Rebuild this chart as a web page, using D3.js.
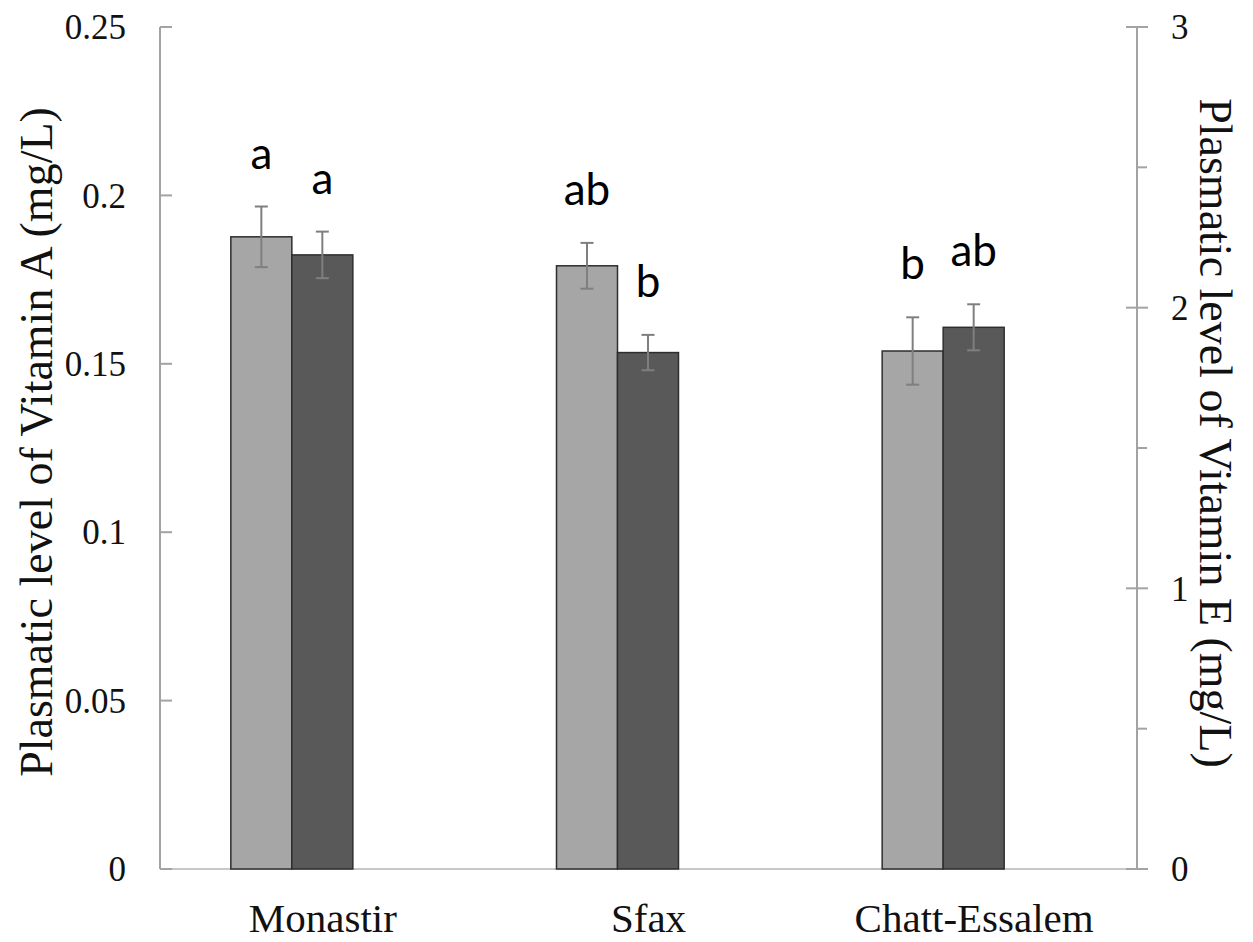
<!DOCTYPE html>
<html>
<head>
<meta charset="utf-8">
<script src="https://cdn.jsdelivr.net/npm/d3@7"></script>
<style>
  html, body { margin: 0; padding: 0; background: #fff; }
  svg { display: block; }
</style>
</head>
<body>
<svg id="chart" width="1253" height="942"></svg>
<script>
// Sites and measured plasma levels
const sites = ["Monastir", "Sfax", "Chatt-Essalem"];
const vitA = [0.1877, 0.1791, 0.1538];      // mg/L, left axis
const vitAErr = [0.0090, 0.0068, 0.0100];
const vitE = [2.188, 1.840, 1.930];          // mg/L, right axis
const vitEErr = [0.083, 0.063, 0.082];
const lettersA = ["a", "ab", "b"];
const lettersE = ["a", "b", "ab"];
const ticksA = [0, 0.05, 0.1, 0.15, 0.2, 0.25];
const ticksE = [0, 1, 2, 3];
const minorE = [0.5, 1.5, 2.5];

const svg = d3.select("#chart");
const plotLeft = 160, plotRight = 1137, plotTop = 27, plotBottom = 869;

const x = d3.scaleBand().domain(sites).range([plotLeft, plotRight]).padding(0);
const yA = d3.scaleLinear().domain([0, 0.25]).range([plotBottom, plotTop]);
const yE = d3.scaleLinear().domain([0, 3]).range([plotBottom, plotTop]);

const barW = 61, groupShift = -31;
const axisColor = "#a3a3a3";
const errColor = "#7f7f7f";
const serif = "'Liberation Serif', 'Times New Roman', serif";

// Axis lines
svg.append("line").attr("x1", plotLeft).attr("x2", plotRight).attr("y1", plotBottom).attr("y2", plotBottom)
  .attr("stroke", "#c8c8c8").attr("stroke-width", 2);
svg.append("line").attr("x1", plotLeft).attr("x2", plotLeft).attr("y1", plotTop).attr("y2", plotBottom)
  .attr("stroke", axisColor).attr("stroke-width", 2);
svg.append("line").attr("x1", plotRight).attr("x2", plotRight).attr("y1", plotTop).attr("y2", plotBottom)
  .attr("stroke", axisColor).attr("stroke-width", 2);

// Left axis ticks and labels
svg.selectAll(".tickA").data(ticksA).enter().append("line")
  .attr("x1", plotLeft).attr("x2", plotLeft + 12)
  .attr("y1", d => yA(d)).attr("y2", d => yA(d))
  .attr("stroke", axisColor).attr("stroke-width", 2);
svg.selectAll(".labA").data(ticksA).enter().append("text")
  .attr("x", 126).attr("y", d => yA(d)).attr("dy", "0.35em")
  .attr("text-anchor", "end")
  .attr("font-family", serif)
  .attr("font-size", 35).attr("fill", "#111")
  .text(d => String(d));

// Right axis ticks and labels
svg.selectAll(".tickE").data(ticksE).enter().append("line")
  .attr("x1", plotRight - 11).attr("x2", plotRight + 11)
  .attr("y1", d => yE(d)).attr("y2", d => yE(d))
  .attr("stroke", axisColor).attr("stroke-width", 2);
svg.selectAll(".minorE").data(minorE).enter().append("line")
  .attr("x1", plotRight).attr("x2", plotRight + 10)
  .attr("y1", d => yE(d)).attr("y2", d => yE(d))
  .attr("stroke", axisColor).attr("stroke-width", 2);
svg.selectAll(".labE").data(ticksE).enter().append("text")
  .attr("x", 1171).attr("y", d => yE(d)).attr("dy", "0.35em")
  .attr("text-anchor", "start")
  .attr("font-family", serif)
  .attr("font-size", 35).attr("fill", "#111")
  .text(d => String(d));

// Bars
const rows = sites.map((s, i) => ({ site: s, a: vitA[i], ae: vitAErr[i], e: vitE[i], ee: vitEErr[i], la: lettersA[i], le: lettersE[i] }));
const cx = s => x(s) + x.bandwidth() / 2 + groupShift;

svg.selectAll(".barA").data(rows).enter().append("rect")
  .attr("x", d => cx(d.site) - barW).attr("width", barW)
  .attr("y", d => yA(d.a)).attr("height", d => plotBottom - yA(d.a))
  .attr("fill", "#a6a6a6").attr("stroke", "#2e2e2e").attr("stroke-width", 1.5);
svg.selectAll(".barE").data(rows).enter().append("rect")
  .attr("x", d => cx(d.site)).attr("width", barW)
  .attr("y", d => yE(d.e)).attr("height", d => plotBottom - yE(d.e))
  .attr("fill", "#595959").attr("stroke", "#2e2e2e").attr("stroke-width", 1.5);

// Error bars
function errBars(sel, xc, y0, y1) {
  const g = sel.append("g").attr("stroke", errColor).attr("stroke-width", 2);
  g.append("line").attr("x1", xc).attr("x2", xc).attr("y1", y0).attr("y2", y1);
  g.append("line").attr("x1", xc - 6.5).attr("x2", xc + 6.5).attr("y1", y0).attr("y2", y0);
  g.append("line").attr("x1", xc - 6.5).attr("x2", xc + 6.5).attr("y1", y1).attr("y2", y1);
}
rows.forEach(d => {
  errBars(svg, cx(d.site) - barW / 2, yA(d.a + d.ae), yA(d.a - d.ae));
  errBars(svg, cx(d.site) + barW / 2, yE(d.e + d.ee), yE(d.e - d.ee));
});

// Significance letters
const letterFont = "Lato, 'Open Sans', sans-serif";
svg.selectAll(".letA").data(rows).enter().append("text")
  .attr("x", d => cx(d.site) - barW / 2).attr("y", d => yA(d.a + d.ae) - 38)
  .attr("text-anchor", "middle").attr("font-family", letterFont)
  .attr("font-size", 44).attr("fill", "#000").text(d => d.la);
svg.selectAll(".letE").data(rows).enter().append("text")
  .attr("x", d => cx(d.site) + barW / 2).attr("y", d => yE(d.e + d.ee) - 38)
  .attr("text-anchor", "middle").attr("font-family", letterFont)
  .attr("font-size", 44).attr("fill", "#000").text(d => d.le);

// Category labels
svg.selectAll(".cat").data(sites).enter().append("text")
  .attr("x", d => x(d) + x.bandwidth() / 2).attr("y", 932)
  .attr("text-anchor", "middle")
  .attr("font-family", serif)
  .attr("font-size", 41).attr("fill", "#111").text(d => d);

// Axis titles
svg.append("text")
  .attr("transform", "translate(52, 442) rotate(-90)")
  .attr("text-anchor", "middle")
  .attr("font-family", serif)
  .attr("font-size", 46).attr("fill", "#111")
  .text("Plasmatic level of Vitamin A (mg/L)");
svg.append("text")
  .attr("transform", "translate(1200, 433) rotate(90)")
  .attr("text-anchor", "middle")
  .attr("font-family", serif)
  .attr("font-size", 46).attr("fill", "#111")
  .text("Plasmatic level of Vitamin E (mg/L)");
</script>
</body>
</html>
